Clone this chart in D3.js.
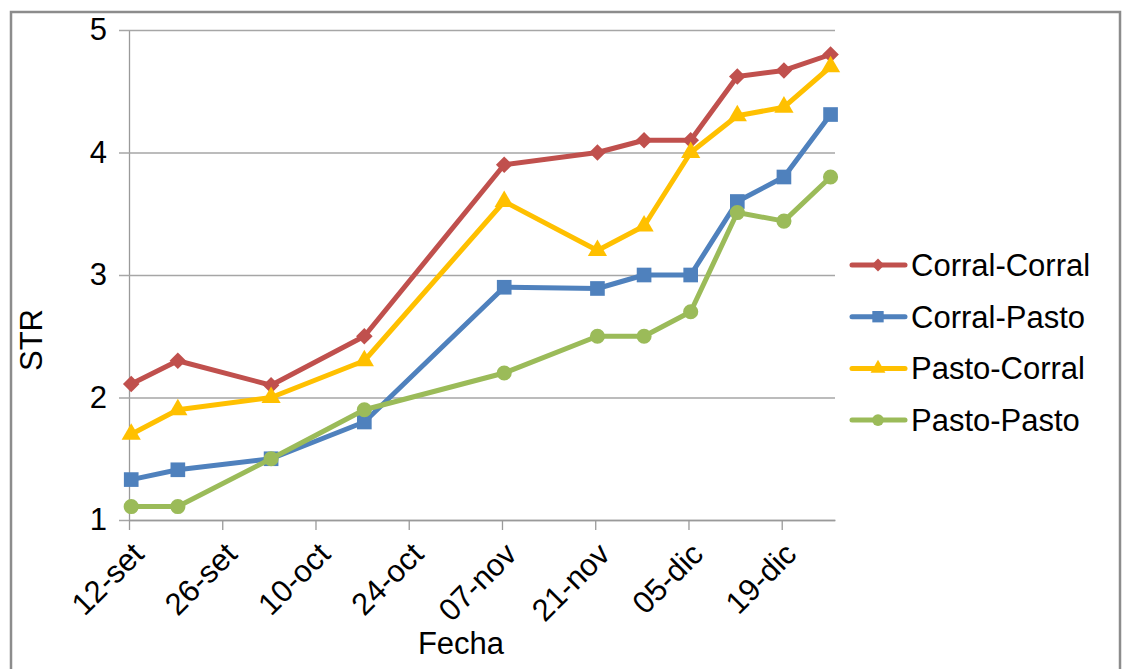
<!DOCTYPE html>
<html>
<head>
<meta charset="utf-8">
<script src="https://cdn.jsdelivr.net/npm/d3@7"></script>
<style>
  html, body { margin: 0; padding: 0; background: #fff; }
  svg { display: block; }
  text { font-family: "Liberation Sans", Arial, sans-serif; fill: #000; }
</style>
</head>
<body>
<svg id="chart" width="1122" height="669"></svg>
<script>
// Sampling dates (day-month), season starting 12-set
const dates = ["2011-09-12", "2011-09-19", "2011-10-03", "2011-10-17", "2011-11-07",
               "2011-11-21", "2011-11-28", "2011-12-05", "2011-12-12", "2011-12-19", "2011-12-26"];

const corralCorral = [2.11, 2.30, 2.10, 2.50, 3.90, 4.00, 4.10, 4.10, 4.62, 4.67, 4.80];
const corralPasto  = [1.33, 1.41, 1.50, 1.80, 2.90, 2.89, 3.00, 3.00, 3.60, 3.80, 4.31];
const pastoCorral  = [1.70, 1.90, 2.00, 2.30, 3.60, 3.20, 3.40, 4.00, 4.30, 4.37, 4.70];
const pastoPasto   = [1.11, 1.11, 1.50, 1.90, 2.20, 2.50, 2.50, 2.70, 3.51, 3.44, 3.80];

const seriesNames = ["Corral-Corral", "Corral-Pasto", "Pasto-Corral", "Pasto-Pasto"];

// Axis ticks: every 14 days from 12-set
const tickDates  = ["2011-09-12", "2011-09-26", "2011-10-10", "2011-10-24",
                    "2011-11-07", "2011-11-21", "2011-12-05", "2011-12-19"];
const tickLabels = ["12-set", "26-set", "10-oct", "24-oct", "07-nov", "21-nov", "05-dic", "19-dic"];
const yTicks = [1, 2, 3, 4, 5];

const parse = d3.utcParse("%Y-%m-%d");
const FONT = 31;

const series = [
  { name: seriesNames[0], values: corralCorral, color: "#C0504D", symbol: d3.symbolDiamond2, size: 175 },
  { name: seriesNames[1], values: corralPasto,  color: "#4F81BD", symbol: d3.symbolSquare,   size: 215 },
  { name: seriesNames[2], values: pastoCorral,  color: "#FFC000", symbol: d3.symbolTriangle, size: 160 },
  { name: seriesNames[3], values: pastoPasto,   color: "#9BBB59", symbol: d3.symbolCircle,   size: 180 }
];

const svg = d3.select("#chart");

// outer chart frame
svg.append("rect")
  .attr("x", 11).attr("y", 12).attr("width", 1109).attr("height", 700)
  .attr("fill", "#fff").attr("stroke", "#8c8c8c").attr("stroke-width", 2.5);

const plot = { left: 129, right: 835, top: 30, bottom: 520 };

// date axis with one slot per day; each point sits inside its day slot
const x = d3.scaleUtc()
  .domain([parse("2011-09-12"), parse("2011-12-27")])
  .range([plot.left, plot.right]);
const y = d3.scaleLinear().domain([1, 5]).range([plot.bottom, plot.top]);

const xPos = d => x(d3.utcHour.offset(parse(d), 8));

// horizontal gridlines + y axis
const yAxis = d3.axisLeft(y).tickValues(yTicks).tickFormat(d3.format("d"))
  .tickSize(-(plot.right - plot.left)).tickSizeOuter(0).tickPadding(22);
const gy = svg.append("g").attr("transform", `translate(${plot.left},0)`).call(yAxis);
gy.select(".domain").attr("stroke", "#9a9a9a").attr("stroke-width", 1.3);
gy.selectAll(".tick line").attr("stroke", "#a6a6a6").attr("stroke-width", 1.3).attr("x1", -10);
gy.selectAll(".tick text").attr("font-size", FONT).attr("font-family", "Liberation Sans, Arial, sans-serif").attr("fill", "#000");

// x axis
const xAxis = d3.axisBottom(x)
  .tickValues(tickDates.map(parse))
  .tickFormat((d, i) => tickLabels[i])
  .tickSize(10).tickSizeOuter(0);
const gx = svg.append("g").attr("transform", `translate(0,${plot.bottom})`).call(xAxis);
gx.select(".domain").attr("stroke", "#9a9a9a").attr("stroke-width", 1.3);
gx.selectAll(".tick line").attr("stroke", "#9a9a9a").attr("stroke-width", 1.3);
gx.selectAll(".tick text")
  .attr("font-size", FONT).attr("font-family", "Liberation Sans, Arial, sans-serif").attr("fill", "#000")
  .attr("text-anchor", "end")
  .attr("dy", null).attr("y", 0)
  .attr("transform", "translate(16,36) rotate(-45)");

// axis titles
svg.append("text").attr("x", 461).attr("y", 654).attr("text-anchor", "middle")
  .attr("font-size", FONT).text("Fecha");
svg.append("text").attr("transform", "translate(42,340) rotate(-90)").attr("text-anchor", "middle")
  .attr("font-size", FONT).text("STR");

// series lines and markers
const line = d3.line().x(d => xPos(d.date)).y(d => y(d.value));
series.forEach(s => {
  const pts = dates.map((d, i) => ({ date: d, value: s.values[i] }));
  svg.append("path").datum(pts)
    .attr("d", line).attr("fill", "none")
    .attr("stroke", s.color).attr("stroke-width", 5).attr("stroke-linejoin", "round").attr("stroke-linecap", "round");
  svg.append("g").selectAll("path").data(pts).join("path")
    .attr("transform", d => `translate(${xPos(d.date)},${y(d.value)})`)
    .attr("d", d3.symbol().type(s.symbol).size(s.size))
    .attr("fill", s.color);
});

// legend
const legend = svg.append("g");
series.forEach((s, i) => {
  const ly = 265 + i * 51.7;
  legend.append("line").attr("x1", 852).attr("x2", 905).attr("y1", ly).attr("y2", ly)
    .attr("stroke", s.color).attr("stroke-width", 5).attr("stroke-linecap", "round");
  legend.append("path").attr("transform", `translate(878,${ly})`)
    .attr("d", d3.symbol().type(s.symbol).size(s.size * 0.6)).attr("fill", s.color);
  legend.append("text").attr("x", 911).attr("y", ly + 11).attr("font-size", FONT).text(s.name);
});
</script>
</body>
</html>
